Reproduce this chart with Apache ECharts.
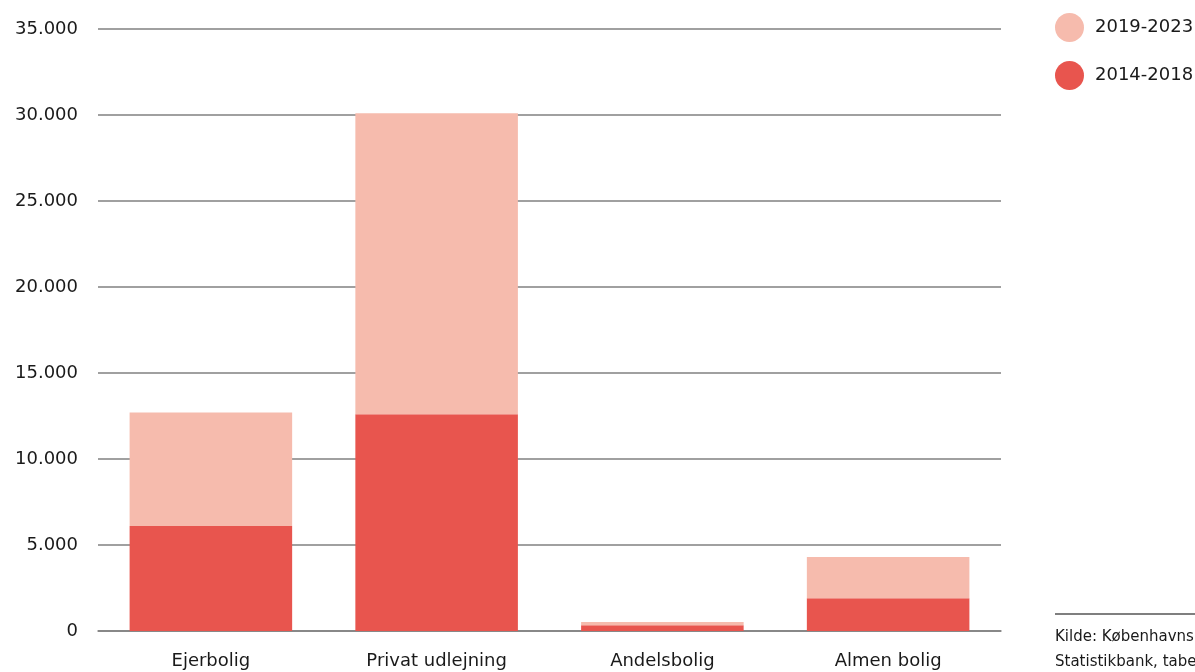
<!DOCTYPE html>
<html>
<head>
<meta charset="utf-8">
<script src="https://cdn.jsdelivr.net/npm/echarts@6/dist/echarts.min.js"></script>
<style>
html,body{margin:0;padding:0;background:#fff;}
#c{width:1195px;height:672px;}
</style>
</head>
<body>
<div id="c"></div>
<script>
const categories = ['Ejerbolig', 'Privat udlejning', 'Andelsbolig', 'Almen bolig'];
const series2014_2018 = [6100, 12600, 330, 1900];
const series2019_2023 = [6600, 17500, 200, 2400];
const seriesNames = ['2014-2018', '2019-2023'];
const sourceLines = ['Kilde: Københavns Kommunes', 'Statistikbank, tabel'];

const FONT = '"DejaVu Sans", "Noto Sans", sans-serif';
const chart = echarts.init(document.getElementById('c'), null, {renderer: 'canvas'});
chart.setOption({
  animation: false,
  backgroundColor: '#ffffff',
  textStyle: {fontFamily: FONT},
  grid: {left: 98, right: 194, top: 29, bottom: 41, containLabel: false},
  legend: {
    left: 1055, top: 13,
    padding: 0,
    orient: 'vertical',
    data: [seriesNames[1], seriesNames[0]],
    icon: 'circle',
    itemWidth: 29, itemHeight: 29,
    itemGap: 19,
    textStyle: {fontSize: 18, color: '#1a1a1a', fontFamily: FONT, padding: [2, 0, 0, 6]}
  },
  xAxis: {
    type: 'category',
    data: categories,
    axisTick: {show: false},
    axisLine: {show: true, lineStyle: {color: '#808080', width: 1.5}},
    axisLabel: {fontSize: 18, color: '#1a1a1a', margin: 21, fontFamily: FONT}
  },
  yAxis: {
    type: 'value',
    min: 0, max: 35000, interval: 5000,
    axisLine: {show: false},
    axisTick: {show: false},
    splitLine: {lineStyle: {color: '#808080', width: 1.5}},
    axisLabel: {
      fontSize: 18, color: '#1a1a1a', margin: 20, fontFamily: FONT,
      formatter: v => v.toString().replace(/\B(?=(\d{3})+(?!\d))/g, '.')
    }
  },
  series: [
    {name: seriesNames[0], type: 'bar', stack: 's', data: series2014_2018, barWidth: '72%', itemStyle: {color: '#E8554E'}},
    {name: seriesNames[1], type: 'bar', stack: 's', data: series2019_2023, barWidth: '72%', itemStyle: {color: '#F6BBAD'}}
  ],
  graphic: [
    {type: 'line', shape: {x1: 1055, y1: 614, x2: 1195, y2: 614}, style: {stroke: '#555', lineWidth: 1.5}},
    {type: 'text', left: 1055, top: 630, style: {text: sourceLines[0], fontSize: 15, fill: '#1a1a1a', fontFamily: FONT}},
    {type: 'text', left: 1055, top: 655, style: {text: sourceLines[1], fontSize: 15, fill: '#1a1a1a', fontFamily: FONT}}
  ]
});
</script>
</body>
</html>
